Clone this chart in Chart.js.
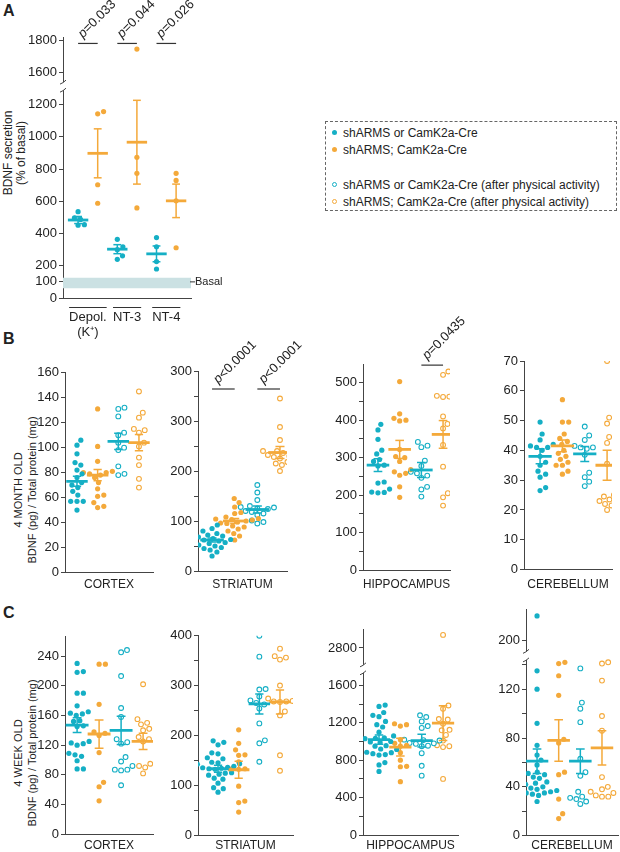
<!DOCTYPE html>
<html lang="en">
<head>
<meta charset="UTF-8" />
<title>BDNF secretion and BDNF content</title>
<script src="https://cdn.jsdelivr.net/npm/chart.js@4"></script>
<style>
  html, body { margin: 0; padding: 0; background: #fff; }
  #fig {
    position: relative;
    width: 620px;
    height: 852px;
    overflow: hidden;
    font-family: "Liberation Sans", Arial, Helvetica, sans-serif;
    color: #222;
  }
  #fig canvas { position: absolute; }
  .letter { position: absolute; font-weight: bold; font-size: 16px; line-height: 16px; }
  .ytitle {
    position: absolute;
    font-size: 12px;
    white-space: nowrap;
    text-align: center;
    transform: translate(-50%, -50%) rotate(-90deg);
  }
  .legend {
    position: absolute;
    left: 325px; top: 121px; width: 292px; height: 90px;
    box-sizing: border-box;
    border: 1px dashed #666;
    font-size: 12px;
  }
  .legend .row { position: absolute; left: 17px; height: 14px; line-height: 14px; white-space: nowrap; }
  .legend .dot {
    position: absolute; left: -11px; top: 4px;
    width: 5px; height: 5px; border-radius: 50%; box-sizing: border-box;
  }
</style>
</head>
<body>
<div id="fig">
  <div class="letter" style="left:3px;top:3px">A</div>
  <div class="letter" style="left:3px;top:331px">B</div>
  <div class="letter" style="left:3px;top:605px">C</div>

  <div class="ytitle" style="left:14px;top:153px;line-height:12.5px">BDNF secretion<br>(% of basal)</div>
  <div class="ytitle" style="left:25px;top:490px;line-height:14px;font-size:11px">4 MONTH OLD<br>BDNF (pg) / Total protein (mg)</div>
  <div class="ytitle" style="left:25px;top:753px;line-height:14px;font-size:11px">4 WEEK OLD<br>BDNF (pg) / Total protein (mg)</div>

  <div class="legend">
    <div class="row" style="top:4px"><span class="dot" style="background:#15afc5"></span>shARMS or CamK2a-Cre</div>
    <div class="row" style="top:21px"><span class="dot" style="background:#f4a93a"></span>shARMS; CamK2a-Cre</div>
    <div class="row" style="top:56px"><span class="dot" style="border:1px solid #15afc5"></span>shARMS or CamK2a-Cre (after physical activity)</div>
    <div class="row" style="top:73px"><span class="dot" style="border:1px solid #f4a93a"></span>shARMS; CamK2a-Cre (after physical activity)</div>
  </div>
</div>

<script>
  const CYAN = "#15afc5";
  const ORANGE = "#f4a93a";
  const AXIS = "#444";
  const BAND = "#cbe1e3";

  // ---- Panel A: BDNF secretion (% of basal) ----
  const secretionLabels = [["Depol.", "(K⁺)"], ["NT-3"], ["NT-4"]];
  const secretionCtrl = [[536, 497, 488, 455, 452], [364, 318, 300, 262, 240], [375, 318, 226, 180]];
  const secretionCre = [[1157, 1143, 703, 588], [1745, 873, 774, 559], [774, 730, 603, 312]];
  const secretionCtrlMean = [484, 303, 274];
  const secretionCtrlSem = [22, 28, 49];
  const secretionCreMean = [898, 967, 603];
  const secretionCreSem = [152, 260, 104];
  const secretionP = ["p=0.033", "p=0.044", "p=0.026"];
  const secretionTicks = [0, 100, 200, 400, 600, 800, 1000, 1200, 1600, 1800];

  // ---- Panels B/C: groups are [ctrl, shARMS;Cre, ctrl + activity, shARMS;Cre + activity] ----
  const regions = ["CORTEX", "STRIATUM", "HIPPOCAMPUS", "CEREBELLUM"];

  // 4 month old
  const m4Cortex = [
    [106, 102, 95, 88, 86, 82, 79, 76, 72, 70, 68, 65, 62, 57, 57, 57, 50],
    [131, 101, 89, 81, 80, 80, 79, 78, 76, 72, 67, 62, 61, 56, 53, 52],
    [132, 131, 125, 112, 110, 104, 100, 98, 85, 79, 78],
    [145, 128, 124, 115, 114, 112, 104, 101, 92, 86, 75, 68]
  ];
  const m4CortexMean = [73, 78, 105, 104];
  const m4CortexSem = [4, 4.5, 6.5, 6.5];

  const m4Striatum = [
    [92, 85, 80, 75, 72, 70, 68, 66, 65, 63, 62, 60, 58, 57, 55, 52, 50, 47, 45, 42, 38, 30],
    [145, 137, 128, 117, 115, 108, 105, 104, 103, 102, 100, 98, 96, 95, 90, 88, 84, 80, 75, 70, 62],
    [172, 157, 142, 130, 128, 127, 125, 124, 120, 118, 115, 112, 101, 98, 95],
    [345, 288, 262, 242, 240, 240, 238, 236, 232, 230, 228, 225, 218, 215, 212, 200]
  ];
  const m4StriatumMean = [62, 100, 123, 237];
  const m4StriatumSem = [4, 5, 7, 12];

  const m4Hippocampus = [
    [389, 374, 349, 320, 310, 295, 290, 280, 278, 235, 232, 216, 208, 207, 206],
    [503, 417, 405, 400, 398, 322, 303, 300, 290, 268, 262, 258, 253, 222, 194],
    [342, 332, 328, 292, 278, 262, 258, 252, 246, 222, 215, 196],
    [530, 521, 465, 463, 462, 410, 390, 378, 334, 276, 205, 194, 172]
  ];
  const m4HippocampusMean = [280, 322, 267, 362];
  const m4HippocampusSem = [17, 24, 20, 37];

  const m4Cerebellum = [
    [49.5, 45.5, 43.5, 42, 41.5, 41, 41, 40, 38, 36, 35, 33, 32, 31, 27.5, 26.5],
    [57, 49.5, 49.5, 45.5, 44, 43, 42, 40, 39, 38, 37, 36, 35, 35, 33, 32],
    [48, 45, 43.5, 41.5, 41, 41, 40.5, 38.5, 32.5, 31, 29.5, 28],
    [70, 51, 49, 44.5, 42.5, 35.5, 25, 24.5, 23.5, 23, 22, 21.5, 20]
  ];
  const m4CerebellumMean = [38, 41.5, 38.8, 35];
  const m4CerebellumSem = [2.5, 2, 2.5, 5];

  // 4 week old
  const w4Cortex = [
    [230, 219, 218, 190, 190, 173, 165, 163, 162, 160, 153, 152, 146, 145, 125, 123, 122, 120, 109, 107, 105, 99, 88, 88],
    [229, 229, 175, 138, 136, 133, 110, 70, 64, 45],
    [248, 245, 213, 170, 158, 128, 124, 122, 104, 98, 92, 87, 87, 86, 66],
    [202, 155, 150, 148, 142, 140, 131, 128, 125, 95, 92, 90, 82]
  ];
  const w4CortexMean = [147, 135, 140, 125];
  const w4CortexSem = [10, 19, 19, 11];

  const w4Striatum = [
    [189, 186, 181, 165, 163, 155, 153, 146, 145, 143, 142, 138, 136, 135, 134, 133, 132, 125, 124, 122, 120, 114, 112, 104, 95, 93, 86],
    [211, 184, 171, 161, 160, 147, 134, 133, 132, 98, 68, 65, 46],
    [400, 358, 293, 292, 278, 270, 265, 262, 254, 224, 190, 184, 147],
    [374, 359, 356, 352, 300, 276, 274, 269, 268, 268, 267, 248, 240, 160, 129]
  ];
  const w4StriatumMean = [133, 131, 263, 267];
  const w4StriatumSem = [7, 17, 20, 24];

  const w4Hippocampus = [
    [1390, 1375, 1310, 1280, 1265, 1215, 1180, 1155, 1100, 1065, 1060, 1040, 1035, 1030, 1000, 995, 990, 955, 950, 920, 915, 885, 880, 870, 860, 855, 775, 750, 680],
    [1190, 1180, 1165, 1020, 980, 960, 950, 880, 800, 735, 730, 570],
    [1280, 1262, 1215, 1165, 1145, 1020, 1015, 1010, 985, 980, 975, 955, 950, 875, 740, 635],
    [2940, 1385, 1350, 1240, 1235, 1190, 1125, 1120, 1070, 1010, 960, 950, 940, 600]
  ];
  const w4HippocampusMean = [1020, 940, 1010, 1197];
  const w4HippocampusSem = [50, 95, 68, 185];

  const w4Cerebellum = [
    [220, 135, 120, 92, 74, 66, 62, 58, 52, 51, 50, 48, 47, 44, 43, 42, 40, 39, 38, 37, 36, 36, 35, 35, 34, 33, 28],
    [142, 141, 131, 115, 79, 76, 52, 50, 30, 18, 14],
    [137, 109, 104, 93, 63, 52, 49, 36, 32, 31, 30, 28, 26],
    [142, 141, 127, 98, 86, 48, 40, 38, 36, 35, 33, 32, 32]
  ];
  const w4CerebellumMean = [61, 78, 61, 72];
  const w4CerebellumSem = [10, 17, 10, 14];

  const fourGroupColors = [CYAN, ORANGE, CYAN, ORANGE];
  const fourGroupOpen = [false, false, true, true];

  Chart.defaults.font.family = '"Liberation Sans", Arial, Helvetica, sans-serif';
  Chart.defaults.color = "#222";

  // place points of one group side by side (beeswarm) using their pixel heights
  function swarmOffsets(pys, d) {
    const order = pys.map((y, i) => i).sort((a, b) => pys[b] - pys[a]);
    const placed = [];
    const out = new Array(pys.length).fill(0);
    order.forEach((i) => {
      const y = pys[i];
      const near = placed.filter((q) => Math.abs(q.y - y) < d);
      const cands = [0];
      near.forEach((q) => {
        const dx = Math.sqrt(d * d - (q.y - y) * (q.y - y));
        cands.push(q.x + dx, q.x - dx);
      });
      cands.sort((a, b) => Math.abs(a) - Math.abs(b));
      const x = cands.find((c) => near.every((q) => (q.x - c) ** 2 + (q.y - y) ** 2 >= d * d - 0.01));
      out[i] = x;
      placed.push({ x, y });
    });
    return out;
  }

  function drawPanel(p) {
    const [cl, ct, cw, ch] = p.canvas;
    const [al, at, ar, ab] = p.area;
    const canvas = document.createElement("canvas");
    canvas.width = cw;
    canvas.height = ch;
    canvas.style.left = cl + "px";
    canvas.style.top = ct + "px";
    document.getElementById("fig").appendChild(canvas);

    const brk = p.brk;
    const toAxis = (v) => (brk && v >= brk.upBottom ? v - brk.shift : v);
    const tickLabel = new Map();
    p.ticks.forEach((v, i) => tickLabel.set(toAxis(v), p.tickText ? p.tickText[i] : String(v)));
    const allTicks = p.ticks.concat(p.minor || []).map(toAxis);

    const datasets = [];
    if (p.band) {
      datasets.push({
        type: "line",
        data: [{ x: p.xMin, y: p.band[1] }, { x: p.xMax, y: p.band[1] }],
        fill: { value: p.band[0] },
        backgroundColor: BAND,
        borderWidth: 0,
        pointRadius: 0,
        order: 9,
      });
    }
    p.groups.forEach((vals, g) => {
      const col = p.colors[g];
      const open = p.open[g];
      datasets.push({
        data: vals.map((v) => ({ x: g + 1, y: toAxis(v) })),
        swarm: g + 1,
        pointRadius: open ? 2.4 : 2.6,
        pointBackgroundColor: open ? "#fff" : col,
        pointBorderColor: col,
        pointBorderWidth: open ? 1.1 : 0,
        order: 5,
      });
      const m = p.means[g], s = p.sems[g], c = g + 1;
      const seg = (pts, w) => datasets.push({
        data: pts, showLine: true, borderColor: col, borderWidth: w, pointRadius: 0, order: 1,
      });
      seg([{ x: c - 0.52, y: m }, { x: c + 0.52, y: m }], 2.8);
      seg([{ x: c, y: m - s }, { x: c, y: m + s }], 1.5);
      seg([{ x: c - 0.2, y: m + s }, { x: c + 0.2, y: m + s }], 1.5);
      seg([{ x: c - 0.2, y: m - s }, { x: c + 0.2, y: m - s }], 1.5);
    });
    (p.pvals || []).forEach((pv) => {
      datasets.push({
        data: [{ x: pv.a, y: toAxis(pv.y) }, { x: pv.b, y: toAxis(pv.y) }],
        showLine: true, borderColor: "#333", borderWidth: 1.2, pointRadius: 0, order: 1,
      });
    });

    const xScale = {
      type: "linear",
      min: p.xMin,
      max: p.xMax,
      grid: { display: false, drawTicks: false },
      border: { display: true, color: AXIS, width: 1 },
      afterFit: (s) => { s.height = ct + ch - ab; },
    };
    if (p.xTicks) {
      xScale.afterBuildTicks = (s) => { s.ticks = p.xTicks.map((v) => ({ value: v })); };
      xScale.ticks = {
        autoSkip: false, maxRotation: 0, padding: 12,
        font: { size: 13, lineHeight: 1.15 }, color: "#222",
        callback: (v) => p.xTickText[p.xTicks.indexOf(v)],
      };
    } else {
      xScale.ticks = { display: false };
      xScale.title = {
        display: true, text: p.title, color: "#222",
        font: { size: 12, lineHeight: 1 }, padding: { top: 0, bottom: p.titlePad },
      };
    }

    const extras = {
      id: "extras",
      afterDraw(chart) {
        const ctx = chart.ctx, xs = chart.scales.x, ys = chart.scales.y, area = chart.chartArea;
        ctx.save();
        if (brk) {
          const yLo = ys.getPixelForValue(brk.lowTop);
          const yHi = ys.getPixelForValue(brk.upBottom - brk.shift);
          const x = area.left;
          ctx.fillStyle = "#fff";
          ctx.fillRect(x - 3, yHi, 6, yLo - yHi);
          ctx.strokeStyle = AXIS;
          ctx.lineWidth = 1;
          [yLo, yHi].forEach((y) => {
            ctx.beginPath();
            ctx.moveTo(x - 3, y + 2);
            ctx.quadraticCurveTo(x, y + 1, x + 3, y - 2);
            ctx.stroke();
          });
        }
        if (p.band) {
          const y = ys.getPixelForValue(100);
          ctx.strokeStyle = "#333";
          ctx.lineWidth = 1;
          ctx.beginPath();
          ctx.moveTo(area.right - 1, y);
          ctx.lineTo(area.right + 4, y);
          ctx.stroke();
          ctx.fillStyle = "#222";
          ctx.font = '11px "Liberation Sans", Arial, sans-serif';
          ctx.textBaseline = "middle";
          ctx.fillText("Basal", area.right + 4, y + 0.5);
        }
        if (p.xTicks) {
          ctx.font = '13px "Liberation Sans", Arial, sans-serif';
          ctx.strokeStyle = "#333";
          ctx.lineWidth = 1;
          p.xTicks.forEach((v, i) => {
            const cx = xs.getPixelForValue(v);
            const w = ctx.measureText(p.xTickText[i][0]).width;
            ctx.beginPath();
            ctx.moveTo(cx - w / 2, xs.top + 9.5);
            ctx.lineTo(cx + w / 2, xs.top + 9.5);
            ctx.stroke();
          });
        }
        (p.pvals || []).forEach((pv) => {
          const cx = (xs.getPixelForValue(pv.a) + xs.getPixelForValue(pv.b)) / 2;
          const y = ys.getPixelForValue(toAxis(pv.y));
          ctx.save();
          ctx.translate(cx - 5, y - 5);
          ctx.rotate(-Math.PI / 4);
          ctx.fillStyle = "#222";
          ctx.textBaseline = "alphabetic";
          ctx.font = 'italic 13px "Liberation Sans", Arial, sans-serif';
          ctx.fillText("p", 0, 0);
          const w = ctx.measureText("p").width;
          ctx.font = '13px "Liberation Sans", Arial, sans-serif';
          ctx.fillText(pv.text.slice(1), w, 0);
          ctx.restore();
        });
        ctx.restore();
      },
    };

    const chart = new Chart(canvas, {
      type: "scatter",
      data: { datasets },
      options: {
        responsive: false,
        animation: false,
        events: [],
        devicePixelRatio: 1,
        layout: { autoPadding: false, padding: { top: at - ct, right: cl + cw - ar, left: 0, bottom: 0 } },
        plugins: { legend: { display: false }, tooltip: { enabled: false } },
        scales: {
          x: xScale,
          y: {
            type: "linear",
            min: 0,
            max: p.yMax,
            afterFit: (s) => { s.width = al - cl; },
            afterBuildTicks: (s) => { s.ticks = allTicks.map((v) => ({ value: v })); },
            grid: { display: true, drawOnChartArea: false, drawTicks: true, tickLength: 4, color: AXIS, lineWidth: 1 },
            border: { display: true, color: AXIS, width: 1 },
            ticks: {
              autoSkip: false, padding: 2, color: "#222", font: { size: 13 },
              callback: (v) => (tickLabel.has(v) ? tickLabel.get(v) : ""),
            },
          },
        },
      },
      plugins: [extras],
    });

    // spread each group's points sideways, then redraw
    const xs = chart.scales.x, ys = chart.scales.y;
    const pxPerUnit = xs.getPixelForValue(1) - xs.getPixelForValue(0);
    chart.data.datasets.forEach((ds) => {
      if (!ds.swarm) return;
      const offs = swarmOffsets(ds.data.map((pt) => ys.getPixelForValue(pt.y)), 6.3);
      ds.data.forEach((pt, i) => { pt.x = ds.swarm + offs[i] / pxPerUnit; });
    });
    chart.update("none");
  }

  // Panel A
  drawPanel({
    canvas: [0, 0, 232, 340], area: [63, 37, 191, 298],
    yMax: 1620, xMin: 0.23, xMax: 6.76,
    ticks: secretionTicks,
    brk: { lowTop: 1290, upBottom: 1540, shift: 200 },
    groups: secretionCtrl.flatMap((c, i) => [c, secretionCre[i]]),
    means: secretionCtrlMean.flatMap((m, i) => [m, secretionCreMean[i]]),
    sems: secretionCtrlSem.flatMap((s, i) => [s, secretionCreSem[i]]),
    colors: [CYAN, ORANGE, CYAN, ORANGE, CYAN, ORANGE],
    open: [false, false, false, false, false, false],
    band: [60, 125],
    xTicks: [1.5, 3.5, 5.5],
    xTickText: secretionLabels,
    pvals: secretionP.map((t, i) => ({ a: 2 * i + 1, b: 2 * i + 2, y: 1780, text: t })),
  });

  const range = (a, b, s) => { const r = []; for (let v = a; v <= b; v += s) r.push(v); return r; };

  // Panel B: 4 month old
  const bPanels = [
    { canvas: [36, 300, 124, 300], area: [65, 372.7, 153, 572.5], yMax: 160, xMin: 0.42, xMax: 4.68,
      ticks: range(0, 160, 20), groups: m4Cortex, means: m4CortexMean, sems: m4CortexSem },
    { canvas: [160, 300, 160, 300], area: [198, 371, 287, 571], yMax: 400, xMin: 0.38, xMax: 4.31,
      ticks: range(0, 400, 100), tickText: ["0", "100", "200", "300", "300"], minor: range(50, 350, 100),
      groups: m4Striatum, means: m4StriatumMean, sems: m4StriatumSem,
      pvals: [{ a: 1, b: 2, y: 364, text: "p<0.0001" }, { a: 3, b: 4, y: 364, text: "p<0.0001" }] },
    { canvas: [325, 300, 155, 300], area: [363, 364, 450, 570], yMax: 550, xMin: 0.31, xMax: 4.32,
      ticks: range(0, 500, 100), minor: range(50, 450, 100),
      groups: m4Hippocampus, means: m4HippocampusMean, sems: m4HippocampusSem,
      pvals: [{ a: 3, b: 4, y: 547, text: "p=0.0435" }] },
    { canvas: [480, 300, 140, 300], area: [524, 361, 612, 569.5], yMax: 70, xMin: 0.28, xMax: 4.22,
      ticks: range(0, 70, 10), groups: m4Cerebellum, means: m4CerebellumMean, sems: m4CerebellumSem },
  ];
  bPanels.forEach((p, i) => drawPanel(Object.assign(p, {
    title: regions[i], titlePad: 9, colors: fourGroupColors, open: fourGroupOpen,
  })));

  // Panel C: 4 week old
  const cPanels = [
    { canvas: [36, 600, 124, 252], area: [65, 636.7, 153, 834.3], yMax: 266, xMin: 0.45, xMax: 4.45,
      ticks: range(0, 240, 40), groups: w4Cortex, means: w4CortexMean, sems: w4CortexSem },
    { canvas: [160, 600, 140, 252], area: [198, 635.7, 293, 835], yMax: 400, xMin: 0.03, xMax: 4.63,
      ticks: range(0, 400, 100), minor: range(50, 350, 100),
      groups: w4Striatum, means: w4StriatumMean, sems: w4StriatumSem },
    { canvas: [325, 600, 140, 252], area: [363, 629.3, 458, 835], yMax: 2200, xMin: 0.25, xMax: 4.7,
      ticks: [0, 400, 800, 1200, 1600, 2800], minor: [200, 600, 1000, 1400],
      brk: { lowTop: 1735, upBottom: 2620, shift: 800 },
      groups: w4Hippocampus, means: w4HippocampusMean, sems: w4HippocampusSem },
    { canvas: [480, 600, 140, 252], area: [526, 607.3, 618, 835.7], yMax: 185, xMin: 0.49, xMax: 4.74,
      ticks: [0, 40, 80, 120, 200], minor: [20, 60, 100, 140],
      brk: { lowTop: 144, upBottom: 191, shift: 40 },
      groups: w4Cerebellum, means: w4CerebellumMean, sems: w4CerebellumSem },
  ];
  cPanels.forEach((p, i) => drawPanel(Object.assign(p, {
    title: regions[i], titlePad: 0, colors: fourGroupColors, open: fourGroupOpen,
  })));
</script>
</body>
</html>
